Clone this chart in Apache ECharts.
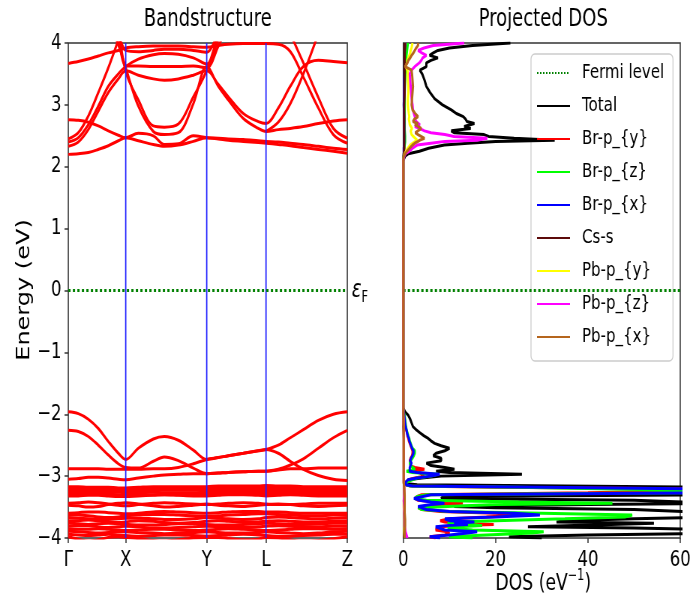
<!DOCTYPE html>
<html lang="en">
  <head>
    <meta charset="UTF-8" />
    <title>Bandstructure and Projected DOS</title>
    <script src="https://cdn.jsdelivr.net/npm/echarts@6/dist/echarts.min.js"></script>
    <style>
      html, body { margin: 0; padding: 0; background: #fff; overflow: hidden; }
      /* the original figure is squeezed sideways, so draw it wide and squeeze it */
      #chart { width: 924px; height: 603px; transform: scaleX(0.75); transform-origin: 0 0; }
    </style>
  </head>
  <body>
    <div id="chart"></div>
    <script>
      // k path (distance along path) and high symmetry points
      const kPath = [0, 0.1, 0.2, 0.3, 0.4, 0.5, 0.574, 0.7, 0.85, 0.96, 1.1, 1.25, 1.384, 1.5, 1.6, 1.75, 1.9, 1.977, 2.1, 2.22, 2.35, 2.5, 2.65, 2.79];
      const kTicks = [0, 0.574, 1.384, 1.977, 2.79];
      const kLabels = ["Γ", "X", "Y", "L", "Z"];
      const eFermi = 0;
      const eMin = -4;
      const eMax = 4;
      const dosMax = 60;

      // conduction bands, energy (eV) at each kPath point
      const condBands = [
        [3.67, 3.70, 3.74, 3.79, 3.84, 3.88, 3.92, 3.94, 3.95, 3.95, 3.95, 3.94, 3.93, 3.96, 3.98, 3.99, 3.99, 3.99, 3.98, 3.86, 3.45, 2.95, 2.52, 2.38],
        [2.76, 2.75, 2.72, 2.66, 2.58, 2.51, 2.47, 2.54, 2.50, 2.36, 2.37, 2.50, 2.47, 2.46, 2.45, 2.44, 2.42, 2.41, 2.40, 2.38, 2.36, 2.33, 2.30, 2.28],
        [2.20, 2.21, 2.23, 2.28, 2.34, 2.42, 2.47, 2.42, 2.36, 2.33, 2.35, 2.41, 2.47, 2.45, 2.43, 2.41, 2.39, 2.38, 2.36, 2.34, 2.31, 2.28, 2.25, 2.22],
        [2.45, 2.55, 2.82, 3.20, 3.60, 4.05, 4.40, null, null, null, null, null, null, null, null, null, null, null, null, null, null, null, null, null],
        [2.40, 2.47, 2.68, 2.98, 3.30, 3.50, 3.62, 3.74, 3.81, 3.83, 3.82, 3.76, 3.66, 4.05, 4.40, null, null, null, null, null, null, null, null, null],
        [2.33, 2.40, 2.60, 2.90, 3.20, 3.42, 3.55, 3.48, 3.42, 3.40, 3.42, 3.48, 3.55, 3.33, 3.13, 2.86, 2.73, 2.70, 2.95, 3.30, 3.62, 3.72, 3.70, 3.68],
        [null, null, null, null, 4.35, 3.97, 3.60, 2.98, 2.57, 2.52, 2.55, 3.02, 3.62, 3.30, 3.08, 2.78, 2.62, 2.57, 2.60, 2.62, 2.65, 2.70, 2.74, 2.76],
        [null, null, null, null, null, 4.30, 3.54, 3.08, 2.66, 2.64, 2.69, 3.13, 3.56, 4.15, null, null, null, null, null, null, null, null, null, null],
        [null, null, null, null, null, 4.25, 3.63, 3.63, 3.62, 3.62, 3.62, 3.63, 3.60, 3.95, 4.30, null, null, null, null, null, null, null, null, null],
        [null, null, null, null, null, null, null, null, null, null, null, null, null, null, null, null, null, 2.57, 2.72, 3.02, 3.50, 4.15, null, null],
        [null, null, null, null, null, null, null, null, null, null, null, null, null, null, null, null, null, null, null, 4.15, 3.68, 3.12, 2.62, 2.46],
        [null, null, null, null, null, 4.20, 3.88, 3.86, 3.88, 3.90, 3.90, 3.88, 3.85, 4.20, null, null, null, null, null, null, null, null, null, null],
      ];

      // valence bands
      const valBands = [
        [-1.96, -1.99, -2.08, -2.23, -2.44, -2.63, -2.73, -2.55, -2.40, -2.36, -2.42, -2.58, -2.73, -2.70, -2.67, -2.63, -2.59, -2.57, -2.50, -2.38, -2.25, -2.10, -2.00, -1.96],
        [-2.26, -2.28, -2.36, -2.50, -2.66, -2.80, -2.86, -2.87, -2.76, -2.69, -2.75, -2.87, -2.96, -2.95, -2.94, -2.93, -2.92, -2.92, -2.89, -2.82, -2.72, -2.55, -2.38, -2.26],
        [-2.88, -2.88, -2.88, -2.88, -2.89, -2.89, -2.89, -2.89, -2.88, -2.88, -2.86, -2.80, -2.73, -2.70, -2.67, -2.63, -2.59, -2.57, -2.63, -2.76, -2.89, -2.99, -3.05, -3.07],
        [-3.05, -3.04, -3.02, -3.02, -3.03, -3.05, -3.06, -3.03, -3.00, -2.98, -2.97, -2.96, -2.96, -2.95, -2.94, -2.93, -2.92, -2.92, -2.90, -2.88, -2.88, -2.87, -2.87, -2.87],
        [-3.17, -3.17, -3.18, -3.18, -3.18, -3.19, -3.19, -3.18, -3.17, -3.17, -3.17, -3.17, -3.17, -3.16, -3.16, -3.16, -3.16, -3.15, -3.16, -3.16, -3.17, -3.17, -3.17, -3.17],
        [-3.20, -3.20, -3.21, -3.21, -3.21, -3.21, -3.21, -3.20, -3.20, -3.20, -3.20, -3.20, -3.20, -3.19, -3.19, -3.19, -3.19, -3.19, -3.19, -3.20, -3.20, -3.20, -3.20, -3.20],
        [-3.23, -3.23, -3.24, -3.24, -3.24, -3.23, -3.23, -3.23, -3.23, -3.23, -3.23, -3.23, -3.23, -3.22, -3.22, -3.22, -3.22, -3.22, -3.22, -3.23, -3.23, -3.23, -3.23, -3.23],
        [-3.26, -3.26, -3.26, -3.27, -3.27, -3.26, -3.26, -3.26, -3.26, -3.27, -3.27, -3.27, -3.26, -3.26, -3.25, -3.25, -3.25, -3.25, -3.25, -3.26, -3.26, -3.26, -3.26, -3.26],
        [-3.29, -3.29, -3.29, -3.29, -3.30, -3.30, -3.29, -3.29, -3.30, -3.30, -3.30, -3.29, -3.29, -3.28, -3.28, -3.29, -3.29, -3.29, -3.28, -3.28, -3.29, -3.29, -3.29, -3.29],
        [-3.32, -3.32, -3.31, -3.31, -3.32, -3.33, -3.33, -3.32, -3.31, -3.30, -3.31, -3.32, -3.32, -3.31, -3.30, -3.30, -3.31, -3.32, -3.31, -3.30, -3.31, -3.32, -3.32, -3.32],
        [-3.44, -3.43, -3.42, -3.43, -3.45, -3.47, -3.48, -3.46, -3.44, -3.43, -3.44, -3.45, -3.46, -3.45, -3.44, -3.43, -3.44, -3.45, -3.46, -3.46, -3.45, -3.44, -3.44, -3.44],
        [-3.47, -3.48, -3.50, -3.49, -3.46, -3.44, -3.43, -3.45, -3.48, -3.50, -3.49, -3.47, -3.45, -3.47, -3.48, -3.49, -3.47, -3.46, -3.45, -3.46, -3.48, -3.49, -3.48, -3.47],
        [-3.60, -3.59, -3.58, -3.58, -3.59, -3.60, -3.61, -3.60, -3.58, -3.57, -3.58, -3.59, -3.60, -3.59, -3.58, -3.57, -3.57, -3.58, -3.58, -3.59, -3.60, -3.60, -3.60, -3.60],
        [-3.63, -3.63, -3.64, -3.66, -3.67, -3.66, -3.64, -3.63, -3.62, -3.62, -3.63, -3.64, -3.65, -3.64, -3.63, -3.62, -3.61, -3.61, -3.62, -3.63, -3.64, -3.64, -3.63, -3.63],
        [-3.67, -3.68, -3.69, -3.70, -3.70, -3.69, -3.68, -3.68, -3.69, -3.70, -3.70, -3.69, -3.67, -3.68, -3.69, -3.70, -3.69, -3.67, -3.66, -3.67, -3.68, -3.69, -3.68, -3.67],
        [-3.72, -3.72, -3.71, -3.72, -3.74, -3.75, -3.74, -3.72, -3.73, -3.75, -3.76, -3.75, -3.73, -3.72, -3.73, -3.74, -3.74, -3.73, -3.72, -3.73, -3.74, -3.74, -3.73, -3.72],
        [-3.76, -3.77, -3.78, -3.77, -3.76, -3.77, -3.78, -3.79, -3.79, -3.78, -3.77, -3.77, -3.78, -3.79, -3.79, -3.78, -3.77, -3.76, -3.77, -3.78, -3.78, -3.77, -3.76, -3.76],
        [-3.81, -3.80, -3.80, -3.82, -3.83, -3.82, -3.81, -3.82, -3.84, -3.84, -3.83, -3.82, -3.81, -3.82, -3.83, -3.83, -3.82, -3.81, -3.80, -3.81, -3.82, -3.82, -3.81, -3.81],
        [-3.85, -3.86, -3.86, -3.85, -3.86, -3.87, -3.88, -3.87, -3.86, -3.86, -3.87, -3.88, -3.87, -3.86, -3.85, -3.86, -3.87, -3.88, -3.87, -3.86, -3.85, -3.85, -3.86, -3.85],
        [-3.89, -3.90, -3.91, -3.92, -3.91, -3.90, -3.90, -3.91, -3.92, -3.93, -3.92, -3.91, -3.90, -3.91, -3.92, -3.92, -3.91, -3.90, -3.91, -3.92, -3.93, -3.92, -3.90, -3.89],
        [-3.94, -3.95, -3.96, -3.95, -3.94, -3.95, -3.96, -3.97, -3.96, -3.95, -3.95, -3.96, -3.97, -3.96, -3.95, -3.94, -3.95, -3.96, -3.97, -3.97, -3.96, -3.95, -3.94, -3.94],
        [-3.98, -4.02, -4.05, -4.03, -3.99, -3.98, -3.99, -4.01, -4.04, -4.05, -4.03, -4.00, -3.99, -3.99, -4.01, -4.03, -4.02, -3.99, -4.00, -4.03, -4.05, -4.04, -4.01, -3.98],
      ];

      // DOS energy grids
      const eVB = [-4.00, -3.98, -3.95, -3.92, -3.90, -3.87, -3.84, -3.82, -3.80, -3.78, -3.76, -3.74, -3.72, -3.69, -3.66, -3.63, -3.60, -3.57, -3.54, -3.51, -3.49, -3.46, -3.44, -3.42, -3.39, -3.36, -3.33, -3.30, -3.27, -3.24, -3.21, -3.18, -3.16, -3.14, -3.12, -3.09, -3.06, -3.03, -3.00, -2.97, -2.94, -2.92, -2.89, -2.86, -2.83, -2.79, -2.75, -2.71, -2.67, -2.63, -2.59, -2.55, -2.51, -2.47, -2.43, -2.39, -2.35, -2.30, -2.25, -2.20, -2.14, -2.08, -2.02, -1.96, -1.90];
      const eCB = [2.10, 2.17, 2.21, 2.25, 2.30, 2.35, 2.38, 2.41, 2.43, 2.46, 2.49, 2.52, 2.55, 2.58, 2.62, 2.65, 2.68, 2.70, 2.73, 2.77, 2.81, 2.86, 2.92, 3.00, 3.10, 3.20, 3.30, 3.40, 3.50, 3.56, 3.62, 3.68, 3.72, 3.76, 3.80, 3.84, 3.88, 3.92, 3.96, 4.00];
      const eVBc = [-4.0, -3.9, -3.8, -3.7, -3.6, -3.5, -3.4, -3.3, -3.2, -3.1, -3.0, -2.8, -2.6, -2.4, -2.2, -2.0, -1.9];
      const eCBc = [2.1, 2.2, 2.3, 2.4, 2.5, 2.6, 2.8, 3.0, 3.2, 3.4, 3.6, 3.8, 4.0];

      // DOS (1/eV)
      const totalVB = [30, 22.9, 40, 70, 70, 70, 50, 27, 27, 45, 54.3, 33.2, 35, 50, 70, 70, 70, 70, 50, 20, 11, 40, 70, 70, 50, 8.2, 8.6, 70, 70, 70, 70, 70, 70, 3, 0.3, 0.6, 1.1, 4, 8.2, 25.7, 10, 7.1, 11.1, 9, 6, 5.0, 8.2, 8.2, 6.5, 7.1, 9, 10, 8.2, 6.8, 6, 5.4, 4.5, 3.6, 2.8, 2.1, 1.8, 1.5, 1.1, 0.4, 0];
      const totalCB = [0, 0.4, 1.1, 3.5, 5.5, 8.9, 14, 20, 32.8, 24, 18.5, 17.5, 11, 10.4, 14.6, 13.2, 13.5, 15.4, 13.8, 13.5, 13, 11.5, 10.4, 8.5, 6.8, 5.8, 5.0, 4.6, 4.1, 3.6, 5.0, 5.0, 6.0, 7.5, 5.7, 6.5, 7.5, 10, 15, 23.2];
      const brPyVB = [7, 5.7, 9, 10, 9.6, 7, 6.8, 8, 12, 19.6, 12, 9, 8, 10, 18, 25, 20, 8, 4, 3.2, 3.5, 8, 12.9, 7, 3.2, 2.5, 3, 4, 40, 60, 70, 20, 1.5, 0.5, 0.3, 0.6, 1.1, 2.5, 4.5, 4.6, 3.5, 1.5, 4.6, 2.5, 1.5, 1.6, 1.4, 1.6, 1.9, 2.0, 2.0, 1.8, 1.6, 1.4, 1.2, 1.1, 0.9, 0.8, 0.6, 0.5, 0.4, 0.3, 0.2, 0.1, 0];
      const brPzVB = [15, 9.9, 18, 28, 30.4, 15, 9.6, 12, 17.1, 15, 9.6, 10.7, 20, 35, 48, 49.6, 30, 10, 4, 3.2, 3.2, 20, 45.3, 25, 5, 2.5, 3, 5, 60, 70, 70, 25, 1.5, 0.6, 0.4, 0.8, 1.1, 3, 6, 7.5, 2, 0.7, 2.5, 2.2, 1.6, 1.4, 1.6, 2.0, 2.3, 2.5, 2.5, 2.0, 1.8, 1.6, 1.4, 1.3, 1.1, 0.9, 0.7, 0.6, 0.5, 0.4, 0.3, 0.1, 0];
      const brPxVB = [8, 5.7, 10, 14, 16, 9, 8.9, 7, 9.3, 14, 11, 15.4, 10, 9, 20, 29.6, 24, 10, 5, 3.9, 3.2, 6, 8.9, 6, 3.5, 2.3, 2.5, 6, 70, 70, 70, 30, 2, 0.5, 0.4, 0.6, 1.0, 3, 6, 7.9, 3, 1.4, 1.6, 1.4, 1.6, 1.8, 1.5, 1.7, 2.0, 2.2, 2.2, 1.9, 1.7, 1.5, 1.3, 1.2, 1.0, 0.8, 0.7, 0.5, 0.4, 0.3, 0.2, 0.1, 0];
      const brPyCB = [0, 0.1, 0.2, 0.3, 0.3, 0.2, 0.2, 0.2, 0.2, 0.3, 0.3, 0.4, 0.5];
      const brPzCB = [0, 0.1, 0.2, 0.4, 0.4, 0.3, 0.3, 0.3, 0.3, 0.4, 0.5, 0.7, 1.0];
      const brPxCB = [0, 0.1, 0.1, 0.2, 0.2, 0.2, 0.2, 0.1, 0.2, 0.2, 0.3, 0.3, 0.4];
      const csVB = [0.2, 0.2, 0.3, 0.3, 0.3, 0.2, 0.2, 0.2, 0.2, 0.1, 0.1, 0.1, 0.1, 0.1, 0, 0, 0];
      const csCB = [0, 0.1, 0.2, 0.2, 0.2, 0.2, 0.2, 0.2, 0.3, 0.3, 0.3, 0.3, 0.3];
      const pbPyVB = [0.3, 0.2, 0.2, 0.2, 0.2, 0.1, 0.1, 0.2, 0.2, 0.1, 0.1, 0.1, 0.1, 0.1, 0.1, 0, 0];
      const pbPzVB = [0.9, 0.5, 0.3, 0.3, 0.2, 0.2, 0.1, 0.2, 0.2, 0.1, 0.1, 0.1, 0.1, 0.1, 0.1, 0, 0];
      const pbPxVB = [0.3, 0.3, 0.4, 0.4, 0.3, 0.3, 0.3, 0.3, 0.2, 0.1, 0.1, 0.1, 0.1, 0.1, 0.1, 0, 0];
      const pbPyCB = [0, 0.1, 0.3, 0.6, 1.0, 1.5, 2.0, 2.6, 3.0, 2.8, 2.2, 1.8, 1.5, 1.6, 1.9, 1.7, 1.4, 1.6, 1.3, 1.2, 1.3, 1.2, 1.1, 1.0, 1.0, 1.1, 1.1, 1.0, 1.0, 0.9, 0.5, 0.8, 0.9, 1.1, 1.3, 1.5, 1.6, 1.8, 1.9, 2.0];
      const pbPzCB = [0, 0.2, 0.5, 1.3, 2.0, 3.0, 6, 9, 16, 18.2, 11, 9, 6, 4.6, 3.5, 2.5, 3.6, 3.6, 2.8, 2.6, 2.5, 2.3, 2.1, 2.0, 1.8, 1.7, 1.6, 1.5, 1.4, 1.8, 2.5, 3.5, 3.9, 4.2, 5.0, 4.0, 3.2, 4.5, 6.5, 13.2];
      const pbPxCB = [0, 0.1, 0.4, 0.8, 1.4, 2.0, 2.5, 3.2, 3.6, 4.6, 4.6, 3.2, 2.6, 2.8, 3.9, 3.9, 2.5, 3.2, 2.1, 2.4, 3.2, 2.6, 2.0, 1.8, 1.9, 2.0, 2.1, 2.0, 1.9, 1.8, 0.4, 0.9, 1.1, 1.5, 1.8, 2.2, 2.5, 2.8, 3.2, 3.2];

      const FONT = "DejaVu Sans";
      const AXIS = "#333333";

      function pairs(dos, en) {
        return dos.map((d, i) => [d, en[i]]);
      }
      function minus(v) {
        return v < 0 ? "\u2212" + -v : String(v);
      }

      const dosCurves = [
        { name: "Total", color: "#000000", data: pairs(totalVB, eVB).concat(pairs(totalCB, eCB)) },
        { name: "Br-p_{y}", color: "#ff0000", data: pairs(brPyVB, eVB).concat(pairs(brPyCB, eCBc)) },
        { name: "Br-p_{z}", color: "#00ff00", data: pairs(brPzVB, eVB).concat(pairs(brPzCB, eCBc)) },
        { name: "Br-p_{x}", color: "#0000ff", data: pairs(brPxVB, eVB).concat(pairs(brPxCB, eCBc)) },
        { name: "Cs-s", color: "#5c0a0a", data: pairs(csVB, eVBc).concat(pairs(csCB, eCBc)) },
        { name: "Pb-p_{y}", color: "#ffff00", data: pairs(pbPyVB, eVBc).concat(pairs(pbPyCB, eCB)) },
        { name: "Pb-p_{z}", color: "#ff00ff", data: pairs(pbPzVB, eVBc).concat(pairs(pbPzCB, eCB)) },
        { name: "Pb-p_{x}", color: "#b5651d", data: pairs(pbPxVB, eVBc).concat(pairs(pbPxCB, eCB)) },
      ];

      const series = [];
      condBands.concat(valBands).forEach((b) => {
        series.push({
          type: "line", xAxisIndex: 0, yAxisIndex: 0, symbol: "none", smooth: 0.35, silent: true,
          data: b.map((e, i) => [kPath[i], e]),
          lineStyle: { color: "#ff0000", width: 3 },
        });
      });
      kTicks.slice(1, 4).forEach((k) => {
        series.push({
          type: "line", xAxisIndex: 0, yAxisIndex: 0, symbol: "none", silent: true,
          data: [[k, eMin], [k, eMax]],
          lineStyle: { color: "#2020ff", width: 1.7 },
        });
      });
      series.push({
        type: "line", xAxisIndex: 0, yAxisIndex: 0, symbol: "none", silent: true,
        data: [[kTicks[0], eFermi], [kTicks[4], eFermi]],
        lineStyle: { color: "#008000", width: 3, type: "dotted" },
      });
      series.push({
        name: "Fermi level", type: "line", xAxisIndex: 1, yAxisIndex: 1, symbol: "none", silent: true,
        data: [[0, eFermi], [dosMax, eFermi]],
        lineStyle: { color: "#008000", width: 3, type: "dotted" },
        itemStyle: { color: "#008000" },
      });
      dosCurves.forEach((c) => {
        series.push({
          name: c.name, type: "line", xAxisIndex: 1, yAxisIndex: 1, symbol: "none", silent: true,
          data: c.data,
          lineStyle: { color: c.color, width: 3 },
          itemStyle: { color: c.color },
        });
      });

      const chart = echarts.init(document.getElementById("chart"));
      const option = {
        animation: false,
        textStyle: { fontFamily: FONT },
        grid: [
          { left: 91.1, top: 43, width: 372, height: 495, show: true, borderColor: AXIS, borderWidth: 1.5, backgroundColor: "transparent" },
          { left: 537.7, top: 43, width: 373.3, height: 495, show: true, borderColor: AXIS, borderWidth: 1.5, backgroundColor: "transparent" },
        ],
        xAxis: [
          {
            gridIndex: 0, type: "value", min: kTicks[0], max: kTicks[4],
            axisLine: { show: false, onZero: false }, splitLine: { show: false },
            axisTick: { customValues: kTicks, length: 5, lineStyle: { color: AXIS, width: 1.5 } },
            axisLabel: {
              customValues: kTicks, fontSize: 22, margin: 11, color: "#000", fontFamily: FONT,
              formatter: (v) => {
                const i = kTicks.findIndex((k) => Math.abs(k - v) < 1e-6);
                return i >= 0 ? kLabels[i] : "";
              },
            },
          },
          {
            gridIndex: 1, type: "value", min: 0, max: dosMax, interval: 20,
            axisLine: { show: false, onZero: false }, splitLine: { show: false },
            axisTick: { length: 5, lineStyle: { color: AXIS, width: 1.5 } },
            axisLabel: { fontSize: 22, margin: 11, color: "#000", fontFamily: FONT },
          },
        ],
        yAxis: [
          {
            gridIndex: 0, type: "value", min: eMin, max: eMax, interval: 1,
            axisLine: { show: false, onZero: false }, splitLine: { show: false },
            axisTick: { length: 5, lineStyle: { color: AXIS, width: 1.5 } },
            axisLabel: { fontSize: 22, margin: 9, color: "#000", fontFamily: FONT, formatter: minus },
          },
          {
            gridIndex: 1, type: "value", min: eMin, max: eMax, interval: 1,
            axisLine: { show: false, onZero: false }, splitLine: { show: false },
            axisTick: { show: false }, axisLabel: { show: false },
          },
        ],
        legend: {
          orient: "vertical", left: 708, top: 54,
          data: ["Fermi level", "Total", "Br-p_{y}", "Br-p_{z}", "Br-p_{x}", "Cs-s", "Pb-p_{y}", "Pb-p_{z}", "Pb-p_{x}"],
          itemWidth: 44, itemHeight: 14, itemGap: 11,
          itemStyle: { opacity: 0 },
          padding: [8, 6, 11, 7],
          backgroundColor: "transparent", borderWidth: 0,
          selectedMode: false,
          textStyle: { fontFamily: FONT, fontSize: 20, color: "#000", lineHeight: 22, padding: [0, 0, 0, 11] },
        },
        graphic: [
          // legend frame, drawn under the legend entries
          {
            type: "rect", z: 3, silent: true,
            shape: { x: 708, y: 54, width: 189.3, height: 307, r: 5 },
            style: { fill: "rgba(255,255,255,0.8)", stroke: "#cccccc", lineWidth: 1.3 },
          },
          { type: "text", x: 277.1, y: 20, style: { text: "Bandstructure", fontFamily: FONT, fontSize: 24, fill: "#000", align: "center", verticalAlign: "middle" } },
          { type: "text", x: 724.3, y: 20, style: { text: "Projected DOS", fontFamily: FONT, fontSize: 24, fill: "#000", align: "center", verticalAlign: "middle" } },
          { type: "text", x: 33, y: 290, rotation: Math.PI / 2, style: { text: "Energy (eV)", fontFamily: FONT, fontSize: 24, fill: "#000", align: "center", verticalAlign: "middle" } },
          {
            type: "text", x: 724.3, y: 584,
            style: {
              text: "{a|DOS (eV}{b|\u22121}{a|)}", align: "center", verticalAlign: "middle",
              rich: {
                a: { fontFamily: FONT, fontSize: 23, fill: "#000", lineHeight: 30 },
                b: { fontFamily: FONT, fontSize: 15, fill: "#000", lineHeight: 30, verticalAlign: "top" },
              },
            },
          },
          {
            type: "text", x: 469, y: 291,
            style: {
              text: "{a|\u03b5}{b|F}", align: "left", verticalAlign: "middle",
              rich: {
                a: { fontFamily: FONT, fontSize: 24, fontStyle: "italic", fill: "#000", lineHeight: 30 },
                b: { fontFamily: FONT, fontSize: 15, fill: "#000", lineHeight: 30, verticalAlign: "bottom" },
              },
            },
          },
        ],
        series: series,
      };
      chart.setOption(option);
    </script>
  </body>
</html>
